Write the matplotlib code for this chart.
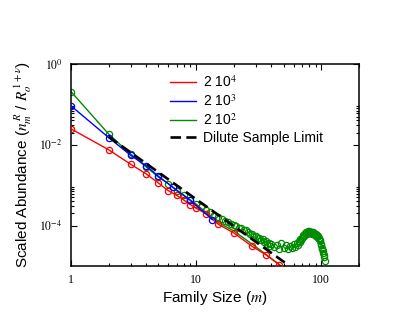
import numpy as np
import matplotlib
matplotlib.use("Agg")
import matplotlib.pyplot as plt
from matplotlib.lines import Line2D
from matplotlib.ticker import FixedLocator, NullFormatter

plt.rcParams['font.family'] = ['Liberation Sans', 'DejaVu Sans']
plt.rcParams['mathtext.fontset'] = 'stix'

# red: 2 10^4
red_m = [1, 2, 3, 4, 5, 6, 7, 8, 9, 10, 12, 15, 20, 28, 36, 46]
red_v = [0.0248, 0.00753, 0.0033, 0.00189, 0.00113, 7.3e-4, 5.6e-4, 4.27e-4,
         3.3e-4, 2.7e-4, 1.98e-4, 1.09e-4, 6.6e-5, 3.08e-5, 1.92e-5, 1.09e-5]

# blue: 2 10^3
blue_m = [1, 2, 3, 4, 5, 6.5, 9, 13.5]
blue_v = [0.0918, 0.0151, 0.0055, 0.0030, 0.00166, 9.0e-4, 4.2e-4, 1.41e-4]

# green: 2 10^2 (connected part)
green_line_m = [1, 2, 3, 4, 5, 6, 7, 8, 9, 10, 15, 20, 30, 47]
green_line_v = [0.207, 0.0184, 0.00589, 0.00281, 0.00159, 0.00109, 7.3e-4,
                5.6e-4, 4.3e-4, 3.4e-4, 1.2e-4, 7.4e-5, 3.0e-5, 1.05e-5]

# green: 2 10^2 (all points)
green_m = [1, 2, 3, 4, 5, 6, 7, 8, 9, 10,
           11, 12, 13, 14, 15, 16, 17, 18, 19, 20,
           21, 22, 23, 24, 25, 26, 27, 28, 29, 30,
           31, 32, 33, 34, 35, 36, 37, 38, 39, 40,
           42, 44, 46, 48, 50, 52, 54, 56, 58, 60,
           62, 64, 65, 66, 67, 68, 69, 70,
           71, 72, 73, 74, 75, 76, 77, 78, 79, 80,
           81, 82, 83, 84, 85, 86, 87, 88, 89, 90,
           91, 92, 93, 94, 95, 96, 97, 98, 99, 100,
           101, 102, 103, 104, 105, 106, 108]
green_v = [0.207, 0.0184, 0.00589, 0.00281, 0.00159, 0.00109, 7.3e-4, 5.6e-4, 4.3e-4, 3.4e-4,
           2.9e-4, 2.5e-4, 2.2e-4, 1.85e-4, 1.65e-4, 1.5e-4, 1.32e-4, 1.25e-4, 1.12e-4, 1.05e-4,
           9.6e-5, 9.0e-5, 8.8e-5, 7.8e-5, 7.6e-5, 7.0e-5, 6.3e-5, 6.2e-5, 5.6e-5, 5.5e-5,
           5.0e-5, 4.9e-5, 4.4e-5, 4.6e-5, 4.0e-5, 4.2e-5, 3.6e-5, 3.8e-5, 3.2e-5, 3.5e-5,
           3.0e-5, 3.4e-5, 2.7e-5, 3.7e-5, 2.8e-5, 3.3e-5, 2.7e-5, 3.1e-5, 2.8e-5, 3.6e-5,
           3.0e-5, 3.8e-5, 3.4e-5, 4.2e-5, 3.9e-5, 4.6e-5, 4.3e-5, 5.0e-5,
           5.2e-5, 6.0e-5, 5.7e-5, 6.5e-5, 6.1e-5, 6.9e-5, 6.4e-5, 7.2e-5, 6.6e-5, 7.3e-5,
           6.8e-5, 7.1e-5, 6.5e-5, 7.0e-5, 6.4e-5, 6.8e-5, 6.1e-5, 6.5e-5, 5.9e-5, 6.3e-5,
           5.7e-5, 6.0e-5, 5.3e-5, 5.6e-5, 4.8e-5, 5.0e-5, 4.2e-5, 4.4e-5, 3.6e-5, 3.3e-5,
           2.8e-5, 2.6e-5, 2.3e-5, 2.1e-5, 1.9e-5, 1.7e-5, 1.35e-5]

# dilute sample limit
dilute_m = [2, 53]
dilute_v = [0.0158, 1.13e-5]

labels = [r'2 10$^4$', r'2 10$^3$', r'2 10$^2$', 'Dilute Sample Limit']
green = '#008b00'

fig = plt.figure(figsize=(4.15, 3.21), dpi=100)
ax = fig.add_axes([0.171, 0.171, 0.694, 0.630])

ax.plot(red_m, red_v, color='red', lw=1.0, marker='o', ms=4.5, mfc='none',
        mew=0.9, zorder=3)
ax.plot(blue_m, blue_v, color='blue', lw=1.0, marker='o', ms=4.5, mfc='none',
        mew=0.9, zorder=3)
ax.plot(green_line_m, green_line_v, color=green, lw=1.0, zorder=2)
ax.plot(green_m, green_v, ls='none', marker='o', ms=4.5, mfc='none', mec=green,
        mew=0.9, zorder=2)
ax.plot(dilute_m, dilute_v, color='black', lw=1.9, ls=(0, (4, 2)), zorder=4)

ax.set_xscale('log')
ax.set_yscale('log')
ax.set_xlim(1, 200)
ax.set_ylim(1e-5, 1)

ax.set_xticks([1, 10, 100])
ax.set_xticklabels(['1', '10', '100'], family='Liberation Serif', fontsize=8.5)
ax.xaxis.set_minor_locator(FixedLocator(
    [k for k in range(2, 10)] + [10 * k for k in range(2, 10)] + [200]))
ax.xaxis.set_minor_formatter(NullFormatter())

ax.set_yticks([1, 1e-2, 1e-4])
ax.set_yticklabels([r'$10^{0}$', r'$10^{-2}$', r'$10^{-4}$'], fontsize=8.5)
ax.yaxis.set_minor_locator(FixedLocator(
    [k * 1e-2 for k in range(2, 10)] + [k * 1e-4 for k in range(2, 10)]))
ax.yaxis.set_minor_formatter(NullFormatter())

ax.tick_params(which='both', direction='in', top=True, right=True, width=0.8)
ax.tick_params(which='major', length=4.5, pad=6)
ax.tick_params(which='minor', length=2.5)
for s in ax.spines.values():
    s.set_linewidth(1.1)

ax.set_xlabel(r'Family Size ($m$)', fontsize=11, labelpad=2)
ax.set_ylabel(r'Scaled Abundance ($n_m^{\,R}$ / $R_o^{\,1+\nu}$)', fontsize=11,
              labelpad=4)

handles = [Line2D([], [], color='red', lw=1.0),
           Line2D([], [], color='blue', lw=1.0),
           Line2D([], [], color=green, lw=1.0),
           Line2D([], [], color='black', lw=1.9, ls=(0, (4, 2)))]
ax.legend(handles, labels, loc='upper left', bbox_to_anchor=(0.323, 0.975),
          frameon=False, fontsize=10, handlelength=1.9, handletextpad=0.5,
          labelspacing=0.22, borderaxespad=0)

fig.savefig('out.png', dpi=100)
